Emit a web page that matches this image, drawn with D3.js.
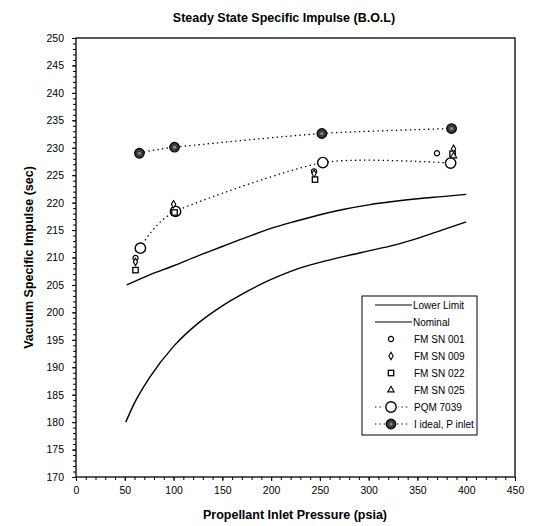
<!DOCTYPE html>
<html>
<head>
<meta charset="utf-8">
<script src="https://cdn.jsdelivr.net/npm/d3@7"></script>
<style>
  body { margin: 0; background: #fff; }
  svg text { font-family: "Liberation Sans", Arial, sans-serif; fill: #000; }
</style>
</head>
<body>
<div id="chart"></div>
<script>
// curves (psia, sec)
const nominalP = [52, 75, 100, 125, 150, 175, 200, 225, 250, 275, 300, 325, 350, 375, 400];
const nominalI = [205.0, 206.8, 208.5, 210.3, 212.0, 213.7, 215.3, 216.6, 217.8, 218.8, 219.6, 220.2, 220.7, 221.1, 221.5];
const lowerP = [51, 60, 75, 100, 125, 150, 175, 200, 225, 250, 275, 300, 325, 350, 375, 400];
const lowerI = [180.0, 183.5, 188.0, 193.8, 198.0, 201.2, 203.8, 206.0, 207.8, 209.1, 210.2, 211.2, 212.2, 213.5, 215.0, 216.5];

const idealP = [65, 101, 252, 385];
const idealI = [229.0, 230.1, 232.6, 233.5];
const pqmP = [66, 102, 253, 384];
const pqmI = [211.7, 218.4, 227.3, 227.2];

const sn001P = [61, 244, 370];
const sn001I = [209.9, 225.7, 229.0];
const sn009P = [61, 100, 244, 387];
const sn009I = [209.2, 219.7, 225.3, 229.8];
const sn022P = [61, 101, 245, 386];
const sn022I = [207.7, 218.2, 224.2, 228.9];
const sn025P = [387];
const sn025I = [228.5];

const xTicks = [0, 50, 100, 150, 200, 250, 300, 350, 400, 450];
const yTicks = [170, 175, 180, 185, 190, 195, 200, 205, 210, 215, 220, 225, 230, 235, 240, 245, 250];

const legendNames = ["Lower Limit", "Nominal", "FM SN 001", "FM SN 009", "FM SN 022", "FM SN 025", "PQM 7039", "I ideal,  P inlet"];

const W = 543, H = 526;
const svg = d3.select("#chart").append("svg").attr("width", W).attr("height", H);

const x = d3.scaleLinear().domain([0, 450]).range([76, 515]);
const y = d3.scaleLinear().domain([170, 250]).range([477, 38]);

// frame
svg.append("rect")
  .attr("x", x(0)).attr("y", y(250))
  .attr("width", x(450) - x(0)).attr("height", y(170) - y(250))
  .attr("fill", "none").attr("stroke", "#000").attr("stroke-width", 1.3);

// axes
const xAxis = svg.append("g").attr("transform", `translate(0,${y(170)})`);
xAxis.call(d3.axisBottom(x).tickValues(d3.range(0, 451, 10)).tickSize(3).tickFormat(""));
xAxis.call(g => g.selectAll(".tick line").attr("stroke-width", 1));
const xLab = svg.append("g").attr("transform", `translate(0,${y(170)})`)
  .call(d3.axisBottom(x).tickValues(xTicks).tickSize(4).tickPadding(6));
xLab.selectAll("text").attr("font-size", 10.5);
svg.selectAll(".domain").remove();

const yAxis = svg.append("g").attr("transform", `translate(${x(0)},0)`);
yAxis.call(d3.axisLeft(y).tickValues(d3.range(170, 251, 1)).tickSize(3).tickFormat(""));
const yLab = svg.append("g").attr("transform", `translate(${x(0)},0)`)
  .call(d3.axisLeft(y).tickValues(yTicks).tickSize(4).tickPadding(8));
yLab.selectAll("text").attr("font-size", 10.5);
svg.selectAll(".domain").remove();

// titles
svg.append("text").attr("x", 284).attr("y", 22).attr("text-anchor", "middle")
  .attr("font-size", 12.5).attr("font-weight", "bold")
  .text("Steady State Specific Impulse (B.O.L)");
svg.append("text").attr("x", 295).attr("y", 519).attr("text-anchor", "middle")
  .attr("font-size", 12.5).attr("font-weight", "bold")
  .text("Propellant Inlet Pressure (psia)");
svg.append("text").attr("transform", `translate(33,${(y(170) + y(250)) / 2}) rotate(-90)`)
  .attr("text-anchor", "middle").attr("font-size", 12.5).attr("font-weight", "bold")
  .text("Vacuum Specific Impulse (sec)");

const line = d3.line().x(d => x(d[0])).y(d => y(d[1])).curve(d3.curveMonotoneX);
const zip = (a, b) => a.map((v, i) => [v, b[i]]);

// solid curves
svg.append("path").datum(zip(lowerP, lowerI)).attr("d", line)
  .attr("fill", "none").attr("stroke", "#000").attr("stroke-width", 1.4);
svg.append("path").datum(zip(nominalP, nominalI)).attr("d", line)
  .attr("fill", "none").attr("stroke", "#000").attr("stroke-width", 1.4);

// dotted curves
const smooth = d3.line().x(d => x(d[0])).y(d => y(d[1])).curve(d3.curveCardinal.tension(0.3));
[zip(pqmP, pqmI), zip(idealP, idealI)].forEach(pts => {
  svg.append("path").datum(pts).attr("d", smooth)
    .attr("fill", "none").attr("stroke", "#000").attr("stroke-width", 1.3)
    .attr("stroke-dasharray", "1.4,3.2");
});

// marker painters
const mark = {
  sn001: (g) => g.append("circle").attr("r", 2.6).attr("fill", "#fff").attr("stroke", "#000").attr("stroke-width", 1.2),
  sn009: (g) => g.append("path").attr("d", d3.symbol(d3.symbolDiamond, 16)).attr("fill", "#fff").attr("stroke", "#000").attr("stroke-width", 1.1),
  sn022: (g) => g.append("rect").attr("x", -2.7).attr("y", -2.7).attr("width", 5.4).attr("height", 5.4).attr("fill", "#fff").attr("stroke", "#000").attr("stroke-width", 1.3),
  sn025: (g) => g.append("path").attr("d", d3.symbol(d3.symbolTriangle, 18)).attr("fill", "#fff").attr("stroke", "#000").attr("stroke-width", 1.1),
  pqm: (g) => g.append("circle").attr("r", 5.2).attr("fill", "#fff").attr("stroke", "#000").attr("stroke-width", 1.4),
  ideal: (g) => {
    g.append("circle").attr("r", 4.8).attr("fill", "#3a3a3a").attr("stroke", "#000").attr("stroke-width", 1.2);
    g.append("circle").attr("r", 1.6).attr("fill", "#8a8a8a");
  }
};

const drawPoints = (P, I, fn) => {
  P.forEach((p, i) => {
    const g = svg.append("g").attr("transform", `translate(${x(p)},${y(I[i])})`);
    fn(g);
  });
};
drawPoints(pqmP, pqmI, mark.pqm);
drawPoints(sn001P, sn001I, mark.sn001);
drawPoints(sn009P, sn009I, mark.sn009);
drawPoints(sn022P, sn022I, mark.sn022);
drawPoints(sn025P, sn025I, mark.sn025);
drawPoints(idealP, idealI, mark.ideal);

// legend
const lg = svg.append("g");
lg.append("rect").attr("x", 362).attr("y", 296).attr("width", 115).attr("height", 139)
  .attr("fill", "#fff").attr("stroke", "#000").attr("stroke-width", 1);
legendNames.forEach((name, i) => {
  const ly = 305 + i * 17;
  if (i < 2) {
    lg.append("line").attr("x1", 375).attr("x2", 412).attr("y1", ly).attr("y2", ly)
      .attr("stroke", "#000").attr("stroke-width", 1.2);
  } else if (i >= 6) {
    lg.append("line").attr("x1", 375).attr("x2", 410).attr("y1", ly).attr("y2", ly)
      .attr("stroke", "#000").attr("stroke-width", 1.2).attr("stroke-dasharray", "1.4,3");
  }
  const key = ["", "", "sn001", "sn009", "sn022", "sn025", "pqm", "ideal"][i];
  if (key) {
    const g = lg.append("g").attr("transform", `translate(391,${ly})`);
    if (key === "pqm") g.append("rect").attr("x", -7).attr("y", -6).attr("width", 14).attr("height", 12).attr("fill", "#fff");
    mark[key](g);
  }
  lg.append("text").attr("x", i < 2 ? 413 : 414).attr("y", ly + 3.5)
    .attr("font-size", 10).text(name);
});
</script>
</body>
</html>
